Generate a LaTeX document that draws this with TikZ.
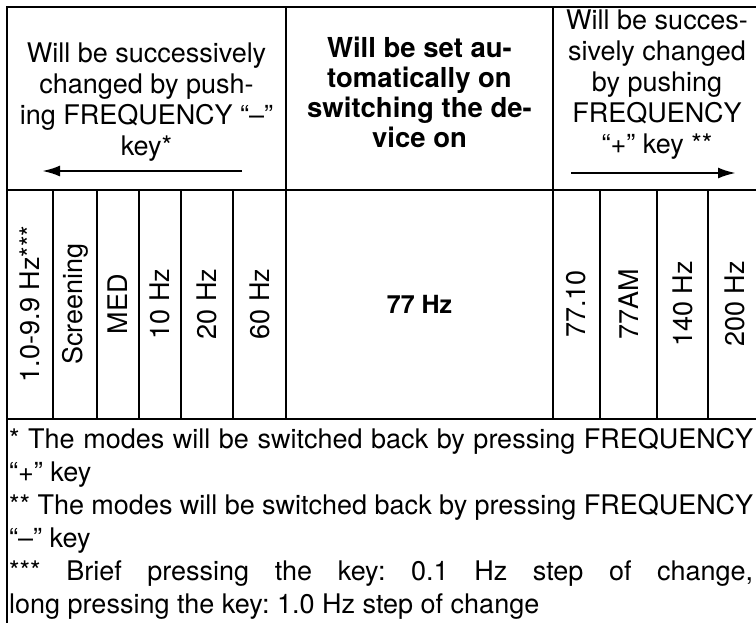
\documentclass[tikz,border=0pt]{standalone}
\usepackage{fontspec}
\setmainfont{TeX Gyre Heros}
\usetikzlibrary{arrows.meta}
\frenchspacing

\begin{document}
\begin{tikzpicture}[x=1pt, y=-1pt,
    rule/.style={line width=2.2pt},
    head/.style={anchor=base, align=center, inner sep=0pt,
      font=\fontsize{27}{31}\selectfont},
    boldhead/.style={head, font=\fontsize{27.5}{30}\selectfont\bfseries},
    mode/.style={rotate=90, inner sep=0pt, font=\fontsize{27}{30}\selectfont},
    keyarrow/.style={line width=2.5pt, -{Latex[length=18pt, width=11pt]}}]
    \useasboundingbox (0,0) rectangle (756,622);

    % frame and rules of the table
    \draw[rule] (770,7) -- (7,7) -- (7,630);
    \draw[rule] (7,190) -- (770,190);
    \draw[rule] (7,419) -- (770,419);
    \draw[rule] (286,7) -- (286,419);
    \draw[rule] (553,7) -- (553,419);
    \foreach \x in {53,97,139,181,233,600,657,708}
      \draw[rule] (\x,190) -- (\x,419);

    % header cells (anchored at the baseline of their last line)
    \node[head] (minus) at (146.5,155)
      {Will be successively\\changed by push-\\ing FREQUENCY “–”\\key*};
    \node[boldhead] (auto) at (419.5,147)
      {Will be set au-\\tomatically on\\switching the de-\\vice on};
    \node[head] (plus) at (657,153)
      {Will be succes-\\sively changed\\by pushing\\FREQUENCY\\“+” key **};

    % key arrows
    \coordinate (minusR) at (242,171);
    \coordinate (minusL) at (42,171);
    \coordinate (plusL) at (571,173);
    \coordinate (plusR) at (736,173);
    \draw[keyarrow] (minusR) -- (minusL);
    \draw[keyarrow] (plusL) -- (plusR);

    % modes
    \foreach \xc/\txt [count=\i] in {30/{1.0-9.9 Hz***}, 75/Screening,
        118/MED, 160/10 Hz, 207/20 Hz, 259.5/60 Hz,
        576.5/77.10, 628.5/77AM, 682.5/140 Hz, 735/200 Hz}
      \node[mode] (mode\i) at (\xc,304) {\txt};
    \node[font=\fontsize{25}{30}\selectfont\bfseries, inner sep=0pt]
      (start) at (419.5,304) {77 Hz};

    % footnotes
    \node[anchor=base west, text width=744pt, align=justify, inner sep=0pt,
      font=\fontsize{27}{33}\selectfont] (notes) at (9,448)
      {* The modes will be switched back by pressing FREQUENCY\linebreak
       “+” key\\{}%
       ** The modes will be switched back by pressing FREQUENCY\linebreak
       “–” key\\{}%
       *** Brief pressing the key: 0.1 Hz step of change,\linebreak
       long pressing the key: 1.0 Hz step of change};
\end{tikzpicture}
\end{document}
